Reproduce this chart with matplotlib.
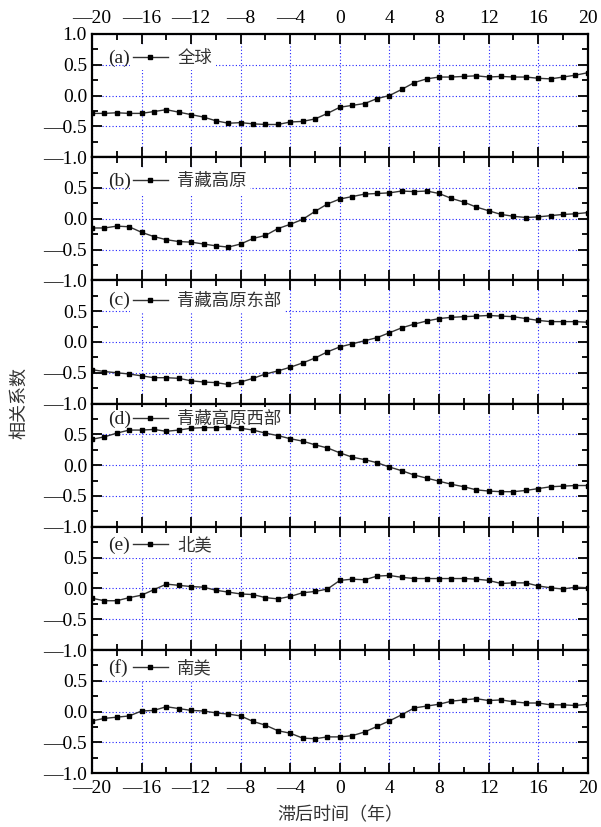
import matplotlib
matplotlib.use("Agg")
import matplotlib.pyplot as plt
from matplotlib.ticker import MultipleLocator, FuncFormatter

# lag in years and correlation coefficients
lags = list(range(-20, 21))

r_global = [-0.29, -0.29, -0.28, -0.29, -0.29, -0.26, -0.23, -0.27, -0.31, -0.35,
            -0.41, -0.45, -0.44, -0.46, -0.47, -0.47, -0.43, -0.42, -0.38, -0.29,
            -0.19, -0.16, -0.13, -0.05, 0.00, 0.10, 0.21, 0.27, 0.30, 0.30,
            0.31, 0.32, 0.30, 0.31, 0.30, 0.30, 0.28, 0.27, 0.30, 0.33, 0.37]

r_tp = [-0.15, -0.15, -0.12, -0.13, -0.22, -0.29, -0.34, -0.37, -0.38, -0.41,
        -0.44, -0.46, -0.41, -0.32, -0.27, -0.16, -0.09, -0.01, 0.12, 0.24,
        0.32, 0.36, 0.40, 0.41, 0.42, 0.45, 0.44, 0.45, 0.41, 0.33,
        0.27, 0.19, 0.13, 0.07, 0.04, 0.02, 0.03, 0.05, 0.07, 0.08, 0.10]

r_tp_east = [-0.45, -0.48, -0.50, -0.52, -0.55, -0.58, -0.58, -0.59, -0.63, -0.65,
             -0.66, -0.69, -0.65, -0.59, -0.52, -0.47, -0.41, -0.34, -0.26, -0.16,
             -0.08, -0.03, 0.02, 0.07, 0.15, 0.23, 0.29, 0.34, 0.38, 0.40,
             0.41, 0.42, 0.43, 0.42, 0.41, 0.38, 0.35, 0.33, 0.33, 0.33, 0.32]

r_tp_west = [0.42, 0.46, 0.52, 0.57, 0.57, 0.58, 0.55, 0.57, 0.60, 0.61,
             0.61, 0.62, 0.60, 0.57, 0.52, 0.48, 0.43, 0.39, 0.33, 0.28,
             0.20, 0.13, 0.09, 0.04, -0.03, -0.09, -0.16, -0.21, -0.26, -0.31,
             -0.35, -0.40, -0.42, -0.43, -0.43, -0.41, -0.38, -0.35, -0.34, -0.33, -0.33]

r_namerica = [-0.16, -0.20, -0.20, -0.15, -0.11, -0.02, 0.07, 0.05, 0.03, 0.02,
              -0.03, -0.06, -0.09, -0.10, -0.15, -0.17, -0.13, -0.07, -0.05, -0.01,
              0.13, 0.15, 0.14, 0.20, 0.21, 0.18, 0.16, 0.16, 0.16, 0.16,
              0.16, 0.15, 0.13, 0.08, 0.09, 0.09, 0.04, 0.01, -0.01, 0.02, 0.01]

r_samerica = [-0.15, -0.11, -0.09, -0.07, 0.01, 0.02, 0.08, 0.05, 0.02, 0.01,
              -0.02, -0.04, -0.07, -0.16, -0.22, -0.31, -0.35, -0.43, -0.44, -0.41,
              -0.41, -0.39, -0.33, -0.24, -0.15, -0.05, 0.06, 0.09, 0.12, 0.17,
              0.19, 0.21, 0.18, 0.19, 0.16, 0.14, 0.14, 0.11, 0.11, 0.10, 0.12]

panel_tags = ["(a)", "(b)", "(c)", "(d)", "(e)", "(f)"]
region_names = ["全球", "青藏高原", "青藏高原东部", "青藏高原西部", "北美", "南美"]
series = [r_global, r_tp, r_tp_east, r_tp_west, r_namerica, r_samerica]

# vertical spot of each panel's legend (axes fraction)
legend_y = [0.805, 0.805, 0.835, 0.875, 0.85, 0.85]

plt.rcParams['font.family'] = ['Liberation Serif', 'DejaVu Sans']
plt.rcParams['font.size'] = 14
cjk = ['Noto Sans CJK SC', 'DejaVu Sans']


def fmt_x(v, pos):
    # long dash as minus, like the original figure
    return "—%d" % abs(v) if v < 0 else "%d" % v


def fmt_y(v, pos):
    return "—%.1f" % abs(v) if v < 0 else "%.1f" % v


fig, axes = plt.subplots(6, 1, figsize=(6.01, 8.27), dpi=100, sharex=True)
fig.subplots_adjust(left=0.153, right=0.978, top=0.959, bottom=0.065, hspace=0)

for i, ax in enumerate(axes):
    ax.plot(lags, series[i], color="#333333", lw=1.0, marker="s", ms=3.2,
            mfc="black", mec="black", label=region_names[i], zorder=6)
    ax.set_xlim(-20, 20)
    ax.set_ylim(-1.0, 1.0)
    ax.xaxis.set_major_locator(MultipleLocator(4))
    ax.xaxis.set_minor_locator(MultipleLocator(2))
    ax.xaxis.set_major_formatter(FuncFormatter(fmt_x))
    ax.set_yticks([-1.0, -0.5, 0.0, 0.5, 1.0])
    labels = [fmt_y(v, None) for v in [-1.0, -0.5, 0.0, 0.5, 1.0]]
    if i > 0:
        labels[-1] = ""
    ax.set_yticklabels(labels)
    ax.yaxis.set_minor_locator(MultipleLocator(0.25))
    ax.tick_params(which="both", direction="in", top=True, right=True,
                   labelbottom=(i == 5), labeltop=(i == 0), width=1.4,
                   color="#111111")
    ax.tick_params(axis="x", pad=5)
    ax.tick_params(which="major", length=7)
    ax.tick_params(which="minor", length=4)
    ax.grid(True, which="major", color="#2020ff", ls=(0, (1, 2)), lw=0.8)
    for sp in ax.spines.values():
        sp.set_linewidth(1.6)

    ax.text(0.032, legend_y[i], panel_tags[i], transform=ax.transAxes, ha="left",
            va="center", fontsize=14, color="#222222", zorder=7)
    leg = ax.legend(loc="center left", bbox_to_anchor=(0.076, legend_y[i]),
                    borderaxespad=0, numpoints=1,
                    handlelength=2.0, handletextpad=0.55, borderpad=0.2,
                    frameon=True, fancybox=False, edgecolor="none",
                    facecolor="white", framealpha=1.0,
                    prop={"family": cjk, "size": 12.5})
    for t in leg.get_texts():
        t.set_color("#333333")
    leg.set_zorder(4)

fig.text(0.032, 0.513, "相关系数", rotation=90, ha="center", va="center",
         family=cjk, fontsize=13, color="#333333")
fig.text(0.566, 0.014, "滞后时间（年）", ha="center", va="center",
         family=cjk, fontsize=13, color="#333333")

fig.savefig("out.png", dpi=100)
